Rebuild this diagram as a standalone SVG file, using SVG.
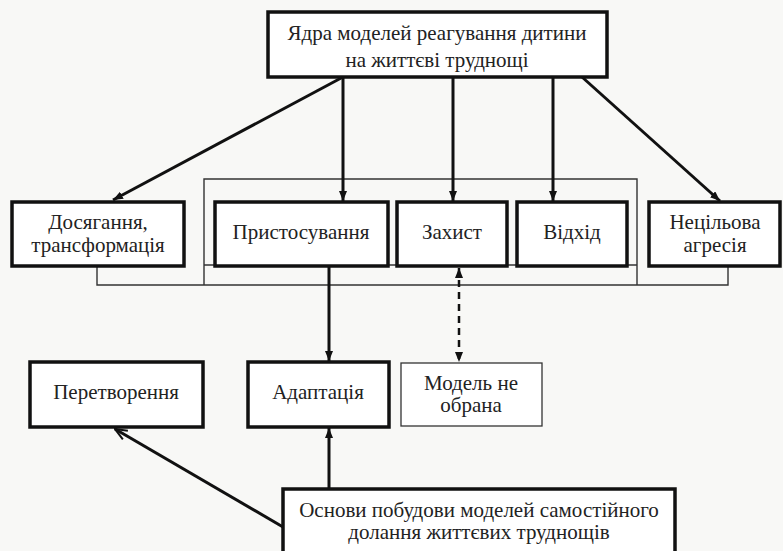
<svg xmlns="http://www.w3.org/2000/svg" width="783" height="551" viewBox="0 0 783 551">
<style>
.bg{fill:#f8f8f6}
.box{fill:#ffffff;stroke:#111;stroke-width:3.5}
.tbox{fill:#ffffff;stroke:#333;stroke-width:1.3}
.t{font-size:21px;fill:#222;text-anchor:middle}
.arr{stroke:#111;stroke-width:3;fill:none}
.thin{stroke:#333;stroke-width:1.4;fill:none}
.dash{stroke:#111;stroke-width:2.5;fill:none;stroke-dasharray:7 5}
</style>
<defs>
<marker id="ah" viewBox="0 0 10 8" refX="10" refY="4" markerWidth="10" markerHeight="8" markerUnits="userSpaceOnUse" orient="auto-start-reverse">
<path d="M0,0 L10,4 L0,8 z" fill="#111"/>
</marker>
<marker id="oh" viewBox="0 0 14 12" refX="13" refY="6" markerWidth="14" markerHeight="12" markerUnits="userSpaceOnUse" orient="auto">
<path d="M1,1 L13,6 L1,11" fill="none" stroke="#111" stroke-width="2"/>
</marker>
</defs>
<rect class="bg" x="0" y="0" width="783" height="551"/>
<g id="connectors">
<path class="thin" d="M204,285 L204,179 L637,179 L637,285"/>
<path class="thin" d="M97,266 L97,285 L728,285 L728,266"/>
<path class="thin" d="M204,265 L637,265"/>
<line class="arr" x1="343" y1="77" x2="113" y2="200" marker-end="url(#ah)"/>
<line class="arr" x1="343" y1="77" x2="343" y2="201" marker-end="url(#ah)"/>
<line class="arr" x1="453" y1="77" x2="453" y2="201" marker-end="url(#ah)"/>
<line class="arr" x1="553" y1="77" x2="553" y2="201" marker-end="url(#ah)"/>
<line class="arr" x1="582" y1="77" x2="720" y2="201" marker-end="url(#ah)"/>
<line class="arr" x1="329" y1="266" x2="329" y2="361" marker-end="url(#ah)"/>
<line class="dash" x1="459" y1="268" x2="459" y2="362" marker-start="url(#ah)" marker-end="url(#ah)"/>
<line class="arr" x1="329" y1="489" x2="329" y2="428" marker-end="url(#ah)"/>
<line class="arr" x1="283" y1="527" x2="115" y2="429" marker-end="url(#oh)"/>
</g>
<g font-family="'Liberation Serif', 'Times New Roman', serif">
<g id="core">
<rect class="box" x="268" y="12" width="339" height="65"/>
<text class="t" x="437" y="40">Ядра моделей реагування дитини</text>
<text class="t" x="437" y="67">на життєві труднощі</text>
</g>
<g id="dosyahannia">
<rect class="box" x="12" y="202" width="172" height="64"/>
<text class="t" x="98" y="229">Досягання,</text>
<text class="t" x="98" y="252">трансформація</text>
</g>
<g id="prystosuvannia">
<rect class="box" x="215" y="202" width="173" height="64"/>
<text class="t" x="301" y="239">Пристосування</text>
</g>
<g id="zakhyst">
<rect class="box" x="397" y="202" width="110" height="64"/>
<text class="t" x="452" y="239">Захист</text>
</g>
<g id="vidkhid">
<rect class="box" x="517" y="202" width="110" height="64"/>
<text class="t" x="572" y="239">Відхід</text>
</g>
<g id="netsilova">
<rect class="box" x="649" y="202" width="131" height="64"/>
<text class="t" x="715" y="229">Нецільова</text>
<text class="t" x="715" y="252">агресія</text>
</g>
<g id="peretvorennia">
<rect class="box" x="30" y="362" width="173" height="65"/>
<text class="t" x="116" y="399">Перетворення</text>
</g>
<g id="adaptatsiia">
<rect class="box" x="248" y="362" width="141" height="65"/>
<text class="t" x="318" y="399">Адаптація</text>
</g>
<g id="ne-obrana">
<rect class="tbox" x="401" y="363" width="141" height="63"/>
<text class="t" x="471" y="390">Модель не</text>
<text class="t" x="471" y="412">обрана</text>
</g>
<g id="osnovy">
<rect class="box" x="283" y="489" width="392" height="70"/>
<text class="t" x="479" y="517">Основи побудови моделей самостійного</text>
<text class="t" x="479" y="539">долання життєвих труднощів</text>
</g>
</g>
</svg>
